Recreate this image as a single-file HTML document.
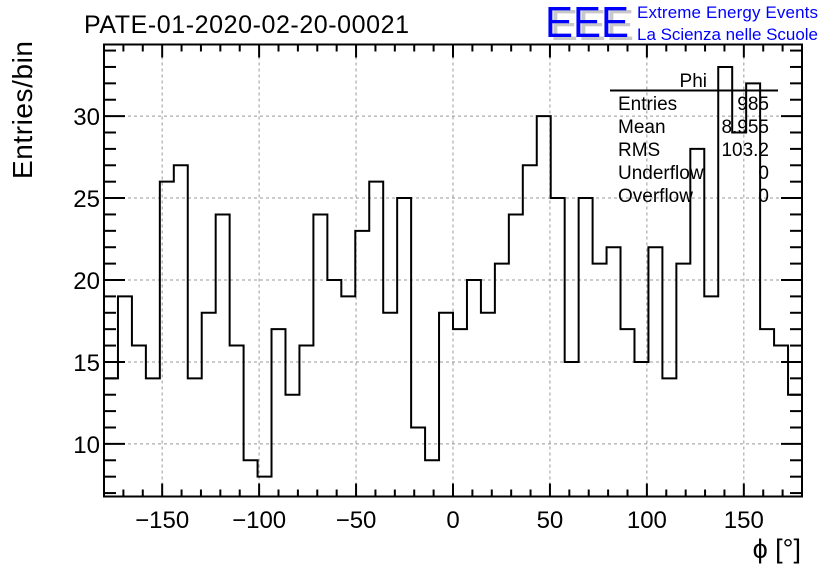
<!DOCTYPE html>
<html><head><meta charset="utf-8"><style>
body{margin:0;background:#fff;}
svg text{font-family:"Liberation Sans",sans-serif;}
</style></head><body>
<svg id="c" width="836" height="572" xmlns="http://www.w3.org/2000/svg">
<rect width="836" height="572" fill="#fff"/>
<g id="grid"></g>
<path id="hist" fill="none" stroke="#000" stroke-width="2"/>
<g id="axes"></g>
<text x="84" y="33" font-size="25" textLength="325">PATE-01-2020-02-20-00021</text>
<text transform="translate(32,179) rotate(-90)" font-size="28" textLength="138">Entries/bin</text>
<text x="801" y="558" font-size="27" text-anchor="end">ϕ [°]</text>
<g>
<text x="550" y="40" font-size="44" fill="#c8c8c8" textLength="84" lengthAdjust="spacingAndGlyphs">EEE</text>
<text x="545" y="37" font-size="44" fill="#0000ff" textLength="84" lengthAdjust="spacingAndGlyphs">EEE</text>
<text x="637" y="18" font-size="17" fill="#0000ff" textLength="181">Extreme Energy Events</text>
<text x="637" y="40" font-size="17" fill="#0000ff" textLength="181">La Scienza nelle Scuole</text>
</g>
<g font-size="19">
<text x="707" y="87" text-anchor="end">Phi</text>
<line x1="610" y1="90.5" x2="778" y2="90.5" stroke="#000" stroke-width="2"/>
<text x="618" y="110">Entries</text><text x="769" y="110" text-anchor="end">985</text>
<text x="618" y="133">Mean</text><text x="769" y="133" text-anchor="end">8.955</text>
<text x="618" y="156">RMS</text><text x="769" y="156" text-anchor="end">103.2</text>
<text x="618" y="179">Underflow</text><text x="769" y="179" text-anchor="end">0</text>
<text x="618" y="202">Overflow</text><text x="769" y="202" text-anchor="end">0</text>
</g>
</svg>
<script>
const binCounts=[14,19,16,14,26,27,14,18,24,16,9,8,17,13,16,24,20,19,23,26,18,25,11,9,18,
17,20,18,21,24,27,30,25,15,25,21,22,17,15,22,14,21,28,19,33,29,32,17,16,13];
const xRange=[-180,180];
const yRange=[6.79,34.37];
const xTickLabels=[-150,-100,-50,0,50,100,150];
const yTickLabels=[10,15,20,25,30];

const L=104,R=802,T=44.5,B=496.5;
const sx=v=>L+(v-xRange[0])/(xRange[1]-xRange[0])*(R-L);
const sy=v=>B-(v-yRange[0])/(yRange[1]-yRange[0])*(B-T);
const NS="http://www.w3.org/2000/svg";
function mk(tag,attrs,parent){const e=document.createElementNS(NS,tag);for(const k in attrs)e.setAttribute(k,attrs[k]);parent.appendChild(e);return e;}
const grid=document.getElementById('grid'),axes=document.getElementById('axes');
xTickLabels.forEach(v=>{const l=mk('line',{x1:sx(v),x2:sx(v),y1:T,y2:B,stroke:'#999','stroke-dasharray':'3,3','stroke-width':1},grid);

});
yTickLabels.forEach(v=>{const l=mk('line',{x1:L,x2:R,y1:sy(v),y2:sy(v),stroke:'#999','stroke-dasharray':'3,3','stroke-width':1},grid);

});
const w=(xRange[1]-xRange[0])/binCounts.length;
let d='M'+sx(xRange[0])+','+sy(binCounts[0]);
binCounts.forEach((c,i)=>{d+=' L'+sx(xRange[0]+i*w)+','+sy(c)+' L'+sx(xRange[0]+(i+1)*w)+','+sy(c);
 if(i<binCounts.length-1)d+=' L'+sx(xRange[0]+(i+1)*w)+','+sy(binCounts[i+1]);});
document.getElementById('hist').setAttribute('d',d);
const fr=mk('rect',{x:L,y:T,width:R-L,height:B-T,fill:'none',stroke:'#000','stroke-width':2},axes);


for(let v=-170;v<=170;v+=10){const maj=v%50===0;const len=maj?13:7;
 mk('line',{x1:sx(v),x2:sx(v),y1:B,y2:B-len,stroke:'#000','stroke-width':2},axes);
 mk('line',{x1:sx(v),x2:sx(v),y1:T,y2:T+len,stroke:'#000','stroke-width':2},axes);}
xTickLabels.forEach(v=>{const t=mk('text',{x:sx(v),y:528,'font-size':24,'text-anchor':'middle'},axes);
 t.textContent=(v<0?'\u2212'+(-v):v);
 
 });
for(let v=7;v<=34;v++){const maj=v%5===0;const len=maj?21:12;
 mk('line',{x1:L,x2:L+len,y1:sy(v),y2:sy(v),stroke:'#000','stroke-width':2},axes);
 mk('line',{x1:R,x2:R-len,y1:sy(v),y2:sy(v),stroke:'#000','stroke-width':2},axes);}
yTickLabels.forEach(v=>{const t=mk('text',{x:100,y:sy(v)+9,'font-size':24,'text-anchor':'end'},axes);
 t.textContent=v;
 
 });
</script>
</body></html>
